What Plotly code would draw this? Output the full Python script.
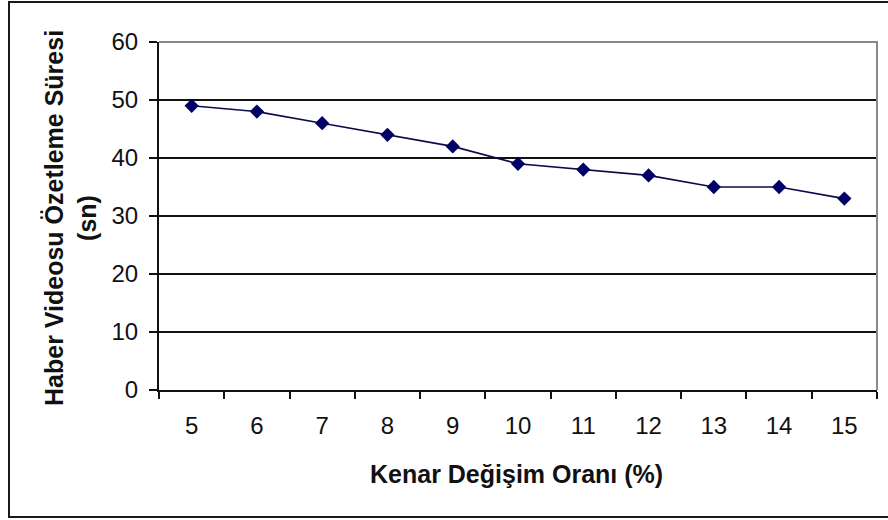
import plotly.graph_objects as go

# Edge-change ratio (%) vs. news-video summarisation time (s)
categories = ["5", "6", "7", "8", "9", "10", "11", "12", "13", "14", "15"]
durations = [49, 48, 46, 44, 42, 39, 38, 37, 35, 35, 33]
y_ticks = [0, 10, 20, 30, 40, 50, 60]

x_title = "Kenar Değişim Oranı (%)"
y_title = "Haber Videosu Özetleme Süresi<br>(sn)"

W, H = 888, 520
L, R, T, B = 159, 11, 42, 130
plot_w = W - L - R
plot_h = H - T - B


def px_to_paper(px, py):
    return (px - L) / plot_w, (H - B - py) / plot_h


fig = go.Figure()
fig.add_trace(go.Scatter(
    x=categories,
    y=durations,
    mode="lines+markers",
    line=dict(color="#0b0b4a", width=1.6),
    marker=dict(symbol="diamond", size=11, color="#000066",
                line=dict(width=0)),
    showlegend=False,
    hoverinfo="x+y",
))

tick_font = dict(family="Liberation Sans, Arial, sans-serif", size=24, color="#111111")
title_font = dict(family="Liberation Sans, Arial, sans-serif", size=25, color="#111111")

fig.update_layout(
    width=W,
    height=H,
    margin=dict(l=L, r=R, t=T, b=B),
    paper_bgcolor="white",
    plot_bgcolor="white",
    xaxis=dict(
        type="category",
        range=[-0.5, len(categories) - 0.5],
        tickson="boundaries",
        ticks="outside",
        ticklen=7,
        tickwidth=1.5,
        tickcolor="#111111",
        showline=True,
        linecolor="#111111",
        linewidth=2,
        showgrid=False,
        tickfont=tick_font,
        ticklabelstandoff=13,
        fixedrange=True,
    ),
    yaxis=dict(
        range=[0, 60],
        tickvals=y_ticks,
        ticks="outside",
        ticklen=8,
        tickwidth=1.5,
        tickcolor="#111111",
        showline=True,
        linecolor="#111111",
        linewidth=2,
        showgrid=True,
        gridcolor="#111111",
        gridwidth=1.5,
        zeroline=False,
        tickfont=tick_font,
        ticklabelstandoff=6,
        fixedrange=True,
    ),
)

# axis titles
tx, ty = px_to_paper(516, 474)
fig.add_annotation(text=f"<b>{x_title}</b>", xref="paper", yref="paper",
                   x=tx, y=ty, xanchor="center", yanchor="middle",
                   showarrow=False, font=title_font)
ax, ay = px_to_paper(70, 218)
fig.add_annotation(text=f"<b>{y_title}</b>", xref="paper", yref="paper",
                   x=ax, y=ay, xanchor="center", yanchor="middle",
                   textangle=-90, showarrow=False, font=title_font)

# plot-area frame: grey top and right edges
fig.add_shape(type="path", xref="paper", yref="paper",
              path="M 0,1 L 1,1 L 1,0",
              line=dict(color="#8a8a8a", width=2), layer="above")

# chart-area border
x0, y0 = px_to_paper(9, 517)
x1, y1 = px_to_paper(900, 2)
fig.add_shape(type="rect", xref="paper", yref="paper",
              x0=x0, y0=y0, x1=x1, y1=y1,
              line=dict(color="#1a1a1a", width=2), layer="below")

fig.write_html("out.html")
